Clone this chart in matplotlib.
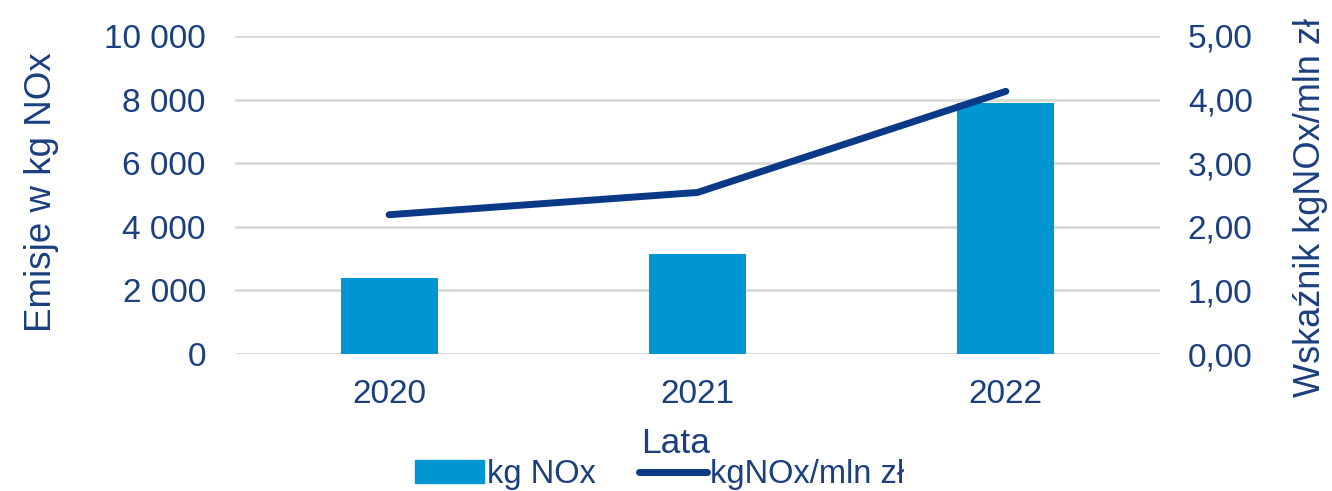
import matplotlib
matplotlib.use("Agg")
import matplotlib.pyplot as plt
from matplotlib.ticker import FuncFormatter, MultipleLocator
from matplotlib.lines import Line2D
from matplotlib.patches import Patch

# data
years = ["2020", "2021", "2022"]
emissions_kg = [2380, 3140, 7880]
index_per_mln = [2.19, 2.54, 4.13]

text_color = "#1b3f7f"
bar_color = "#0096d4"
line_color = "#0a3a87"
grid_color = "#d9d9d9"

plt.rcParams["font.family"] = ["Liberation Sans", "DejaVu Sans"]

fig = plt.figure(figsize=(13.32, 4.91), dpi=100)
ax = fig.add_axes([0.1764, 0.279, 0.6945, 0.6477])
ax2 = ax.twinx()

x = list(range(len(years)))
ax.bar(x, emissions_kg, width=0.315, color=bar_color, zorder=2)
ax2.plot(x, index_per_mln, color=line_color, linewidth=5,
         solid_capstyle="round", solid_joinstyle="round", zorder=3)

ax.set_xlim(-0.5, 2.5)
ax.set_ylim(0, 10000)
ax2.set_ylim(0, 5)
ax.yaxis.set_major_locator(MultipleLocator(2000))
ax2.yaxis.set_major_locator(MultipleLocator(1))

ax.yaxis.set_major_formatter(FuncFormatter(lambda v, p: f"{int(v):,}".replace(",", " ")))
ax2.yaxis.set_major_formatter(FuncFormatter(lambda v, p: f"{v:.2f}".replace(".", ",")))

ax.set_xticks(x)
ax.set_xticklabels(years)

ax.grid(axis="y", color=grid_color, linewidth=2, zorder=0)
ax.set_axisbelow(True)
for a in (ax, ax2):
    for s in a.spines.values():
        s.set_visible(False)

ax.tick_params(axis="y", length=0, pad=21, labelsize=24, labelcolor=text_color)
ax.tick_params(axis="x", length=0, pad=18, labelsize=24, labelcolor=text_color)
ax2.tick_params(axis="y", length=0, pad=20, labelsize=24, labelcolor=text_color)

# axis titles
ax.set_ylabel("Emisje w kg NOx", fontsize=26.5, color=text_color)
ax.yaxis.set_label_coords(-0.190, 0.51)
ax2.set_ylabel("Wskaźnik kgNOx/mln zł", fontsize=26, color=text_color)
ax2.yaxis.set_label_coords(1.144, 0.46)
ax.set_xlabel("Lata", fontsize=25.5, color=text_color)
ax.xaxis.set_label_coords(0.476, -0.228)

handles = [Patch(color=bar_color, label="kg NOx"),
           Line2D([0], [0], color=line_color, linewidth=5,
                  solid_capstyle="round", label="kgNOx/mln zł")]
leg = fig.legend(handles=handles, loc="center", bbox_to_anchor=(0.4955, 0.033),
                 ncol=2, frameon=False, fontsize=23.5, handlelength=2.1,
                 handletextpad=0.1, columnspacing=1.3)
for t in leg.get_texts():
    t.set_color(text_color)

fig.savefig("out.png", dpi=100)
